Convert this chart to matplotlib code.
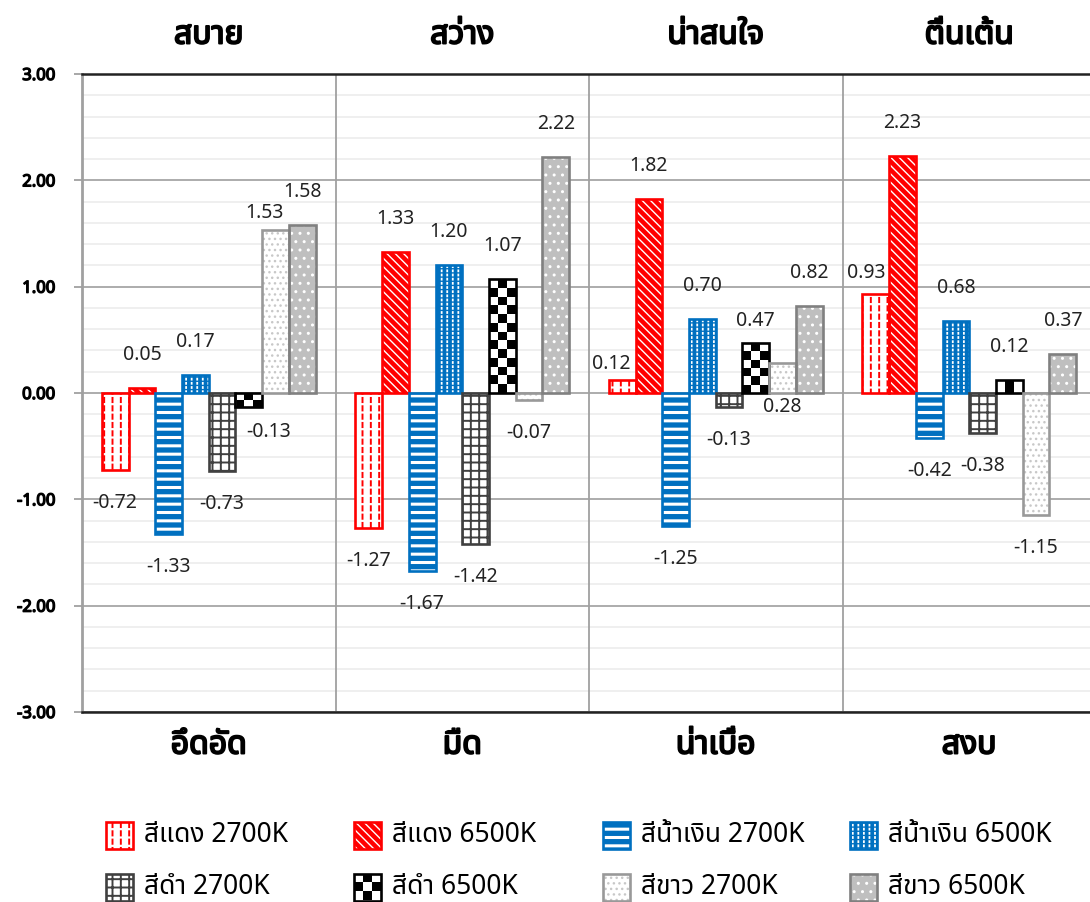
import numpy as np
import matplotlib
matplotlib.use("Agg")
import matplotlib.pyplot as plt
import matplotlib.patheffects as pe
from matplotlib import font_manager
from matplotlib.ft2font import FT2Font
from matplotlib.colors import ListedColormap

# Data
top_labels = ["สบาย", "สว่าง", "น่าสนใจ", "ตื่นเต้น"]
bottom_labels = ["อึดอัด", "มืด", "น่าเบื่อ", "สงบ"]
series = ["สีแดง 2700K", "สีแดง 6500K", "สีน้ำเงิน 2700K", "สีน้ำเงิน 6500K",
          "สีดำ 2700K", "สีดำ 6500K", "สีขาว 2700K", "สีขาว 6500K"]
red_2700 = [-0.72, -1.27, 0.12, 0.93]
red_6500 = [0.05, 1.33, 1.82, 2.23]
blue_2700 = [-1.33, -1.67, -1.25, -0.42]
blue_6500 = [0.17, 1.20, 0.70, 0.68]
black_2700 = [-0.73, -1.42, -0.13, -0.38]
black_6500 = [-0.13, 1.07, 0.47, 0.12]
white_2700 = [1.53, -0.07, 0.28, -1.15]
white_6500 = [1.58, 2.22, 0.82, 0.37]
values = [red_2700, red_6500, blue_2700, blue_6500,
          black_2700, black_6500, white_2700, white_6500]
yticks = [-3, -2, -1, 0, 1, 2, 3]

# fill / hatch layers / outline for each series
styles = [
    dict(face="white", layers=[("||", "#ff0000", 1.4), ("--", "white", 1.6)], edge="#ff0000"),
    dict(face="#ff0000", layers=[("\\\\\\\\", "white", 1.0)], edge="#ff0000"),
    dict(face="#0070c0", layers=[("--", "white", 2.2)], edge="#0070c0"),
    dict(face="#0070c0", layers=[("|||", "white", 1.3), ("----", "#0070c0", 1.0)], edge="#0070c0"),
    dict(face="white", layers=[("++", "#404040", 1.4)], edge="#404040"),
    dict(face="white", checker="black", edge="black"),
    dict(face="white", layers=[("...", "#c8c8c8", 1.0)], edge="#999999"),
    dict(face="#bfbfbf", layers=[("..", "white", 1.0)], edge="#808080"),
]

# label nudges in pixels (dx, dy from the bar end), default is 33 px away
nudge = {(0, 5): (20, -25), (0, 6): (-11, 17), (2, 0): (-11, 16),
         (2, 5): (0, 22), (2, 6): (0, -44), (3, 0): (-9, 21)}


def find_thai_font():
    preferred = ["Tahoma", "Leelawadee UI", "Noto Sans Thai", "Noto Sans Thai UI",
                 "Loma", "Garuda", "Umpush", "Waree", "Sarabun", "Kinnari", "Norasi"]
    found = {}
    for f in font_manager.fontManager.ttflist:
        try:
            if 0x0E2A in FT2Font(f.fname).get_charmap():
                found.setdefault(f.name, []).append(f.weight)
        except Exception:
            pass
    for name in preferred:
        if name in found:
            return name, found[name]
    if found:
        name = next(iter(found))
        return name, found[name]
    return None, []


thai, weights = find_thai_font()
plt.rcParams["font.family"] = [thai, "DejaVu Sans"] if thai else ["DejaVu Sans"]
has_bold = any(wt in (600, 700, 800, "bold", "semibold") for wt in weights)


def bold(color="black", lw=0.9):
    # fake bold with a thin stroke when the family has no bold face
    if has_bold:
        return dict(fontweight="bold")
    return dict(path_effects=[pe.withStroke(linewidth=lw, foreground=color)])


W, H = 1090, 902
fig = plt.figure(figsize=(W / 100, H / 100), dpi=100, facecolor="white")
ax = fig.add_axes([82 / W, (H - 712) / H, (1096 - 82) / W, (712 - 74) / H])

n = len(series)
margin = 0.078
w = (1 - 2 * margin) / n
px_per_unit = (712 - 74) / 6.0


def draw_bar(ax, x, width, bottom, height, st, rows_per_unit, z=2):
    ax.bar(x, height, width, bottom=bottom, color=st["face"], linewidth=0, zorder=z)
    for hatch, col, lw in st.get("layers", []):
        with plt.rc_context({"hatch.linewidth": lw}):
            b = ax.bar(x, height, width, bottom=bottom, facecolor="none",
                       edgecolor=col, linewidth=0, hatch=hatch, zorder=z)
        for p in b:
            if hasattr(p, "set_hatch_linewidth"):
                p.set_hatch_linewidth(lw)
    if "checker" in st:
        y0, y1 = sorted([bottom, bottom + height])
        rows = max(1, int(round((y1 - y0) * rows_per_unit)))
        img = np.add.outer(np.arange(rows), np.arange(3)) % 2
        ax.imshow(img, cmap=ListedColormap(["white", st["checker"]]),
                  extent=(x - width / 2, x + width / 2, y0, y1), aspect="auto",
                  interpolation="nearest", zorder=z)
    ob = ax.bar(x, height, width, bottom=bottom, facecolor="none",
                edgecolor=st["edge"], linewidth=1.9, zorder=z + 0.5)
    for p in ob:
        p.set_clip_on(False)
        p.set_joinstyle("miter")


for i in range(n):
    for g in range(len(top_labels)):
        v = values[i][g]
        x = g + margin + (i + 0.5) * w
        draw_bar(ax, x, w, 0, v, styles[i], px_per_unit / 9.0)
        dx, dy = nudge.get((g, i), (0, 33 if v >= 0 else -33))
        ax.annotate(f"{v:.2f}", (x, v), xytext=(dx * 0.72, dy * 0.72),
                    textcoords="offset points", ha="center", va="center",
                    fontsize=14, color="#222222", zorder=5)

ax.set_xlim(0, 4)
ax.set_ylim(-3, 3)
ax.set_xticks([])
ax.set_yticks(yticks)
ax.set_yticklabels([f"{t:.2f}" for t in yticks], fontsize=12, **bold(lw=1.0))
ax.set_yticks(np.arange(-3, 3.01, 0.2), minor=True)
ax.tick_params(axis="y", which="major", length=6, width=1.3, color="#a0a0a0", pad=13)
ax.tick_params(axis="y", which="minor", length=0)
ax.set_axisbelow(True)
ax.grid(axis="y", which="major", color="#a6a6a6", lw=1.3)
ax.grid(axis="y", which="minor", color="#eeeeee", lw=1.3)
for xs in [1, 2, 3]:
    ax.axvline(xs, color="#a0a0a0", lw=1.3, zorder=1)
ax.spines["left"].set_color("#a0a0a0")
ax.spines["left"].set_linewidth(2)
ax.spines["top"].set_color("#222222")
ax.spines["bottom"].set_color("#222222")
ax.spines["top"].set_linewidth(1.8)
ax.spines["bottom"].set_linewidth(1.8)
ax.spines["right"].set_visible(False)

tr = ax.get_xaxis_transform()
for g in range(len(top_labels)):
    ax.text(g + 0.5, 1 + 39 / 638, top_labels[g], transform=tr, ha="center",
            va="center", fontsize=23, **bold(lw=1.4))
    ax.text(g + 0.5, -33 / 638, bottom_labels[g], transform=tr, ha="center",
            va="center", fontsize=23, **bold(lw=1.4))

# legend: 4 columns x 2 rows of swatches
leg_x = [106, 354, 603, 850]
leg_y = [835, 887]
for i in range(n):
    lx, ly = leg_x[i % 4], leg_y[i // 4]
    sw = fig.add_axes([lx / W, (H - ly - 13.5) / H, 27 / W, 27 / H])
    draw_bar(sw, 0.5, 1, 0, 1, styles[i], 3)
    sw.set_xlim(0, 1)
    sw.set_ylim(0, 1)
    sw.axis("off")
    fig.text((lx + 38) / W, (H - ly) / H, series[i], ha="left", va="center", fontsize=19)

fig.savefig("out.png", dpi=100, facecolor="white")
